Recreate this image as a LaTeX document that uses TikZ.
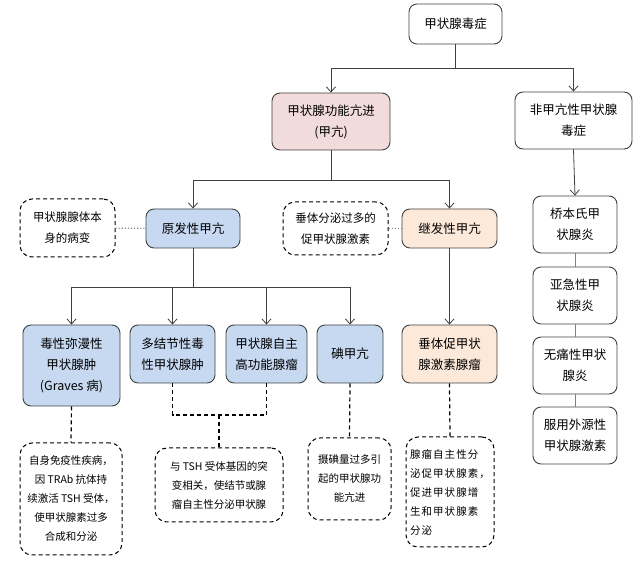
\documentclass[tikz,border=0pt]{standalone}
\usepackage{fontspec}
\setmainfont{Noto Sans CJK SC}
\newfontfamily\notewide[LetterSpace=10]{Noto Sans CJK SC}
\usetikzlibrary{arrows.meta}
\definecolor{hyperPink}{HTML}{F2DCDB}
\definecolor{primBlue}{HTML}{C6D9F1}
\definecolor{secPeach}{HTML}{FDE9D9}
\definecolor{edgeGray}{HTML}{404040}
\begin{document}
\begin{tikzpicture}
[x=1pt,y=-1pt,%
  boxDecorate/.style={draw=edgeGray,line width=0.9pt,rounded corners=8pt,align=center,inner sep=0pt,font=\fontsize{12.5}{21}\selectfont},%
  noteDecorate/.style={draw=black,dash pattern=on 4pt off 3pt,line width=1pt,rounded corners=12pt,align=center,inner sep=0pt,font=\fontsize{10.5}{19}\selectfont},%
  darkArrow/.style={-{Straight Barb[length=5pt,width=9pt]},draw=edgeGray,line width=0.8pt},%
  plainLine/.style={draw=edgeGray,line width=0.8pt},%
  lightLine/.style={draw=gray,line width=1pt},%
  dottedLine/.style={draw=gray,dotted,line width=1.1pt},%
  dashLine/.style={draw=black,dash pattern=on 4pt off 3pt,line width=1.2pt}]
\useasboundingbox (0,0) rectangle (641,564);
%% main boxes
\node (top) at (455.5,24) [boxDecorate,minimum width=93,minimum height=40] {甲状腺毒症};
\node (hyper) at (331,121.5) [boxDecorate,fill=hyperPink,minimum width=118,minimum height=57] {甲状腺功能亢进\\(甲亢)};
\node (nonhyper) at (573.5,120.5) [boxDecorate,minimum width=117,minimum height=57] {非甲亢性甲状腺\\毒症};
\node (primary) at (193,228.5) [boxDecorate,fill=primBlue,minimum width=94,minimum height=39] {原发性甲亢};
\node (secondary) at (449.5,228.5) [boxDecorate,fill=secPeach,minimum width=95,minimum height=39] {继发性甲亢};
%% right column
\foreach \nodename/\y/\txt in {hashi/224.5/{桥本氏甲\\状腺炎}, subacute/295.5/{亚急性甲\\状腺炎},
  painless/365.5/{无痛性甲状\\腺炎}, exo/435.5/{服用外源性\\甲状腺激素}}
{
  \node (\nodename) at (575,\y) [boxDecorate,minimum width=84,minimum height=57] {\txt};
}
%% lower row
\node (graves) at (71.5,365.5) [boxDecorate,fill=primBlue,minimum width=97,minimum height=81] {毒性弥漫性\\甲状腺肿\\(Graves 病)};
\node (multi) at (172.5,354) [boxDecorate,fill=primBlue,minimum width=85,minimum height=58] {多结节性毒\\性甲状腺肿};
\node (adenoma) at (266.5,354) [boxDecorate,fill=primBlue,minimum width=81,minimum height=58] {甲状腺自主\\高功能腺瘤};
\node (iodine) at (350,354) [boxDecorate,fill=primBlue,minimum width=66,minimum height=58] {碘甲亢};
\node (tsh) at (449.5,354) [boxDecorate,fill=secPeach,minimum width=95,minimum height=58] {垂体促甲状\\腺激素腺瘤};
%% dashed notes
\node (noteP) at (67.5,228) [noteDecorate,font=\fontsize{11.5}{21}\selectfont,minimum width=95,minimum height=58] {甲状腺腺体本\\身的病变};
\node (noteS) at (335.5,228.5) [noteDecorate,font=\fontsize{11.5}{21}\selectfont,minimum width=105,minimum height=53] {垂体分泌过多的\\促甲状腺激素};
\node (noteG) at (71,499) [noteDecorate,minimum width=102,minimum height=112] {自身免疫性疾病，\\因 TRAb 抗体持\\续激活 TSH 受体，\\使甲状腺素过多\\合成和分泌};
\node (noteM) at (219,485) [noteDecorate,minimum width=128,minimum height=74] {与 TSH 受体基因的突\\变相关，使结节或腺\\瘤自主性分泌甲状腺};
\node (noteI) at (349.5,479) [noteDecorate,minimum width=83,minimum height=82] {摄碘量过多引\\起的甲状腺功\\能亢进};
\node (noteT) at (450,492) [noteDecorate,align=left,font=\notewide\fontsize{10.5}{19}\selectfont,minimum width=88,minimum height=110] {腺瘤自主性分\\泌促甲状腺素，\\促进甲状腺增\\生和甲状腺素\\分泌};
%% solid edges
\draw[plainLine] (top.south) -- ++(0,24) coordinate (j1);
\draw[darkArrow] (j1) -| (hyper.north);
\draw[darkArrow] (j1) -| (nonhyper.north);
\draw[plainLine] (hyper.south) -- ++(0,30) coordinate (j2);
\draw[darkArrow] (j2) -| (primary.north);
\draw[darkArrow] (j2) -| (secondary.north);
\draw[plainLine] (primary.south) -- ++(0,39) coordinate (j3);
\foreach \endnode in {graves, multi, adenoma, iodine}
{
  \draw[darkArrow] (j3) -| (\endnode.north);
}
\draw[darkArrow] (secondary.south) -- (tsh.north);
\draw[darkArrow] (nonhyper.south) -- (hashi.north);
\foreach \startnode/\endnode in {hashi/subacute, subacute/painless, painless/exo}
{
  \draw[lightLine] (\startnode) -- (\endnode);
}
%% dotted and dashed edges
\draw[dottedLine] (noteP) -- (primary);
\draw[dottedLine] (noteS) -- (secondary);
\coordinate (j4) at (219,415);
\draw[dashLine] (graves.south) -- (noteG.north);
\draw[dashLine] (multi.south) |- (j4) -| (adenoma.south);
\draw[dashLine] (j4) -- (noteM.north);
\draw[dashLine] (iodine.south) -- (noteI.north);
\draw[dashLine] (tsh.south) -- (noteT.north);
\end{tikzpicture}
\end{document}
